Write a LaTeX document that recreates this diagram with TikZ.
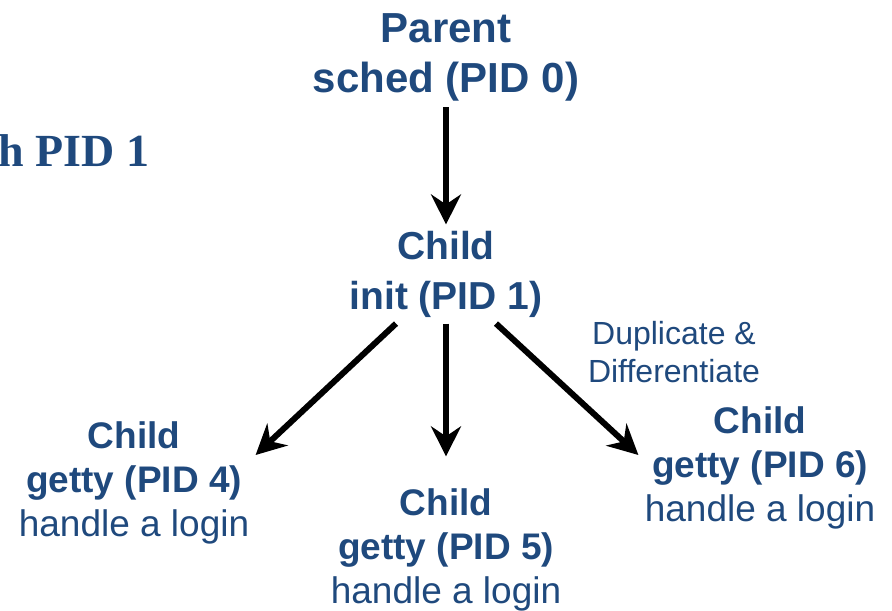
\documentclass[tikz,border=0pt]{standalone}
\usepackage{fontspec}
\setmainfont{Liberation Sans}
\newfontfamily\slideserif{Liberation Serif}
\usetikzlibrary{arrows.meta,calc}
\definecolor{procblue}{RGB}{31,73,125}

\begin{document}
\begin{tikzpicture}[x=0.5pt,y=-0.5pt,
  proc/.style={align=center, text=procblue, inner sep=3pt},
  toplevel/.style={proc, font=\bfseries\fontsize{21}{25}\selectfont},
  midlevel/.style={proc, font=\bfseries\fontsize{19.5}{25}\selectfont},
  leaf/.style={proc, font=\bfseries\fontsize{18.5}{22}\selectfont},
  note/.style={align=center, text=procblue, font=\fontsize{16}{19}\selectfont},
  arrow/.style={-{Stealth[length=15pt,width=15pt,inset=5pt]}, line width=3pt, black},
]
\useasboundingbox (0,0) rectangle (892,610);

% === title fragment (cut off at the left edge) ===
\node[anchor=base east, inner sep=0, text=procblue, font=\slideserif\bfseries\fontsize{23}{27}\selectfont] (title) at (150,166) {h PID 1};

% === process tree ===
\node[toplevel] (sched) at (446,57) {Parent\\sched (PID 0)};
\node[midlevel] (init) at (446,274) {Child\\init (PID 1)};
\node[leaf] (getty4) at (134,483) {Child\\getty (PID 4)\\{\mdseries handle a login}};
\node[leaf] (getty5) at (446,550) {Child\\getty (PID 5)\\{\mdseries handle a login}};
\node[leaf] (getty6) at (760,468) {Child\\getty (PID 6)\\{\mdseries handle a login}};
\node[note] (dup) at (674,352) {Duplicate \&\\Differentiate};

\draw[arrow] (sched.south) -- (init.north);
\draw[arrow] ([xshift=-25pt]init.south) -- ([yshift=14pt]getty4.east);
\draw[arrow, shorten >=13pt] (init.south) -- (getty5.north);
\draw[arrow] ([xshift=25pt]init.south) -- ([yshift=6.5pt]getty6.west);
\end{tikzpicture}
\end{document}
